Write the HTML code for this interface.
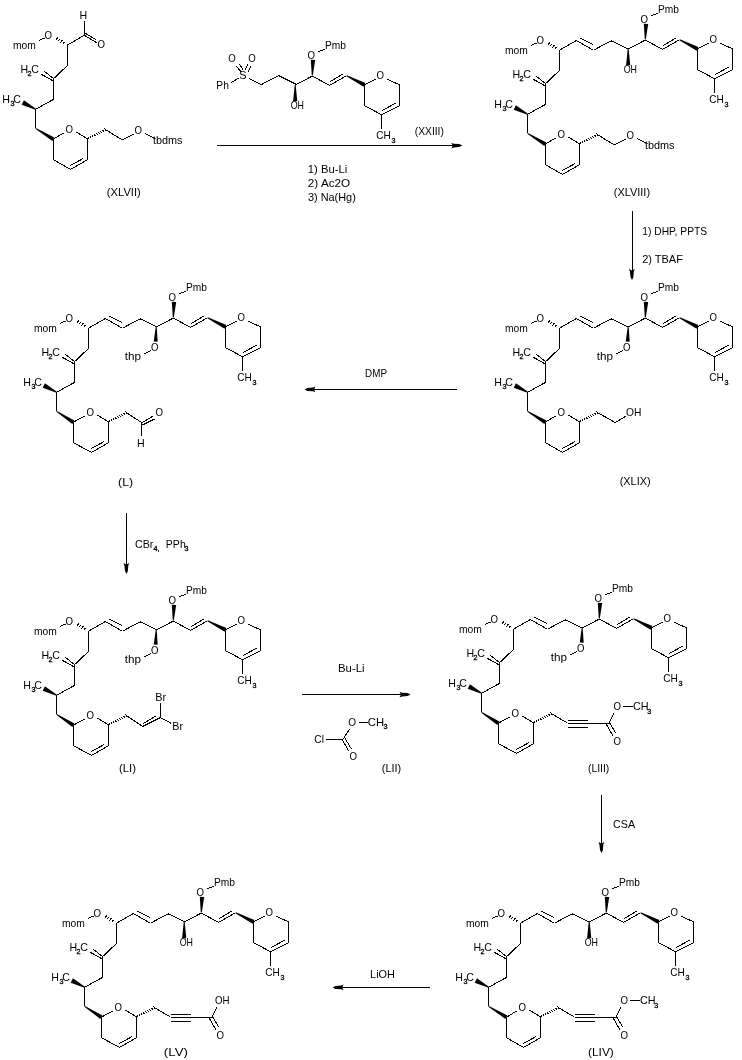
<!DOCTYPE html>
<html><head><meta charset="utf-8"><style>
html,body{margin:0;padding:0;background:#fff;}
svg{display:block;will-change:transform;}
line{stroke:#000;stroke-width:1;shape-rendering:crispEdges;}
.k{fill:#000;}
text{font-family:"Liberation Sans",sans-serif;fill:#000;stroke:none;}
.s{stroke:#000;stroke-width:0.3px;}
</style></head><body>
<svg width="742" height="1060" viewBox="0 0 742 1060">
<rect width="742" height="1060" fill="#fff"/>
<text x="12.95" y="48.7" font-size="11" textLength="22.85" lengthAdjust="spacingAndGlyphs">mom</text>
<line x1="39.2" y1="40.2" x2="45.1" y2="38"/>
<text x="44.49" y="38.7" font-size="11" textLength="7.49" lengthAdjust="spacingAndGlyphs">O</text>
<line x1="64.47" y1="41.67" x2="63.01" y2="43.98"/>
<line x1="62.28" y1="40.17" x2="60.71" y2="42.65"/>
<line x1="60.09" y1="38.67" x2="58.42" y2="41.31"/>
<line x1="57.9" y1="37.17" x2="56.13" y2="39.98"/>
<line x1="67.5" y1="45.2" x2="67.5" y2="65.4"/>
<line x1="67.5" y1="65.4" x2="53.7" y2="78.6"/>
<line x1="53.7" y1="78.6" x2="43.8" y2="71"/>
<line x1="53.2" y1="81" x2="41.4" y2="74.3"/>
<text x="20.42" y="72.9" font-size="11" textLength="7.68" lengthAdjust="spacingAndGlyphs">H</text>
<text class="s" x="27.6" y="76" font-size="7.2">2</text>
<text x="31.32" y="72.9" font-size="11" textLength="7.68" lengthAdjust="spacingAndGlyphs">C</text>
<line x1="53.7" y1="78.6" x2="53.7" y2="99.3"/>
<line x1="53.7" y1="99.3" x2="35.7" y2="109.2"/>
<polygon class="k" points="35.93,108.75 35.47,109.65 21.66,104.83 23.94,100.37"/>
<text x="2.22" y="102.6" font-size="11" textLength="7.68" lengthAdjust="spacingAndGlyphs">H</text>
<text class="s" x="10.6" y="106" font-size="7.2">3</text>
<text x="13.32" y="102.6" font-size="11" textLength="7.68" lengthAdjust="spacingAndGlyphs">C</text>
<line x1="35.6" y1="109.2" x2="35.6" y2="128.4"/>
<polygon class="k" points="35.34,128.83 35.86,127.97 54.44,137.49 52.36,140.91"/>
<line x1="53.4" y1="139.2" x2="63.6" y2="133"/>
<text x="65.39" y="132.6" font-size="11" textLength="7.49" lengthAdjust="spacingAndGlyphs">O</text>
<line x1="76.3" y1="132.2" x2="87.4" y2="138.7"/>
<line x1="87.4" y1="138.7" x2="87.4" y2="159.7"/>
<line x1="87.4" y1="159.7" x2="70.6" y2="169.4"/>
<line x1="70" y1="165.6" x2="83" y2="158.6"/>
<line x1="70.6" y1="169.4" x2="53.4" y2="159.7"/>
<line x1="53.4" y1="159.7" x2="53.4" y2="139.2"/>
<line x1="88.87" y1="138.87" x2="88.11" y2="137.4"/>
<line x1="90.97" y1="137.83" x2="90.17" y2="136.28"/>
<line x1="93.07" y1="136.79" x2="92.23" y2="135.16"/>
<line x1="95.17" y1="135.75" x2="94.29" y2="134.04"/>
<line x1="97.28" y1="134.71" x2="96.35" y2="132.92"/>
<line x1="99.38" y1="133.67" x2="98.41" y2="131.8"/>
<line x1="101.48" y1="132.63" x2="100.47" y2="130.67"/>
<line x1="103.58" y1="131.59" x2="102.53" y2="129.55"/>
<line x1="105.69" y1="130.55" x2="104.59" y2="128.43"/>
<line x1="105" y1="129.3" x2="122.2" y2="139.9"/>
<line x1="122.2" y1="139.9" x2="134.1" y2="134"/>
<text x="134.49" y="133.8" font-size="11" textLength="7.49" lengthAdjust="spacingAndGlyphs">O</text>
<line x1="144.8" y1="133.2" x2="153.5" y2="137.8"/>
<text x="152.91" y="143.8" font-size="11" textLength="29.65" lengthAdjust="spacingAndGlyphs">tbdms</text>
<line x1="67.5" y1="45" x2="84.5" y2="35.2"/>
<line x1="84.5" y1="35.2" x2="84.5" y2="20.9"/>
<text x="79.52" y="18.9" font-size="11" textLength="7.68" lengthAdjust="spacingAndGlyphs">H</text>
<line x1="84.2" y1="35.2" x2="96.6" y2="42.7"/>
<line x1="85.3" y1="33.3" x2="95.7" y2="39.4"/>
<text x="97.59" y="47.9" font-size="11" textLength="7.49" lengthAdjust="spacingAndGlyphs">O</text>
<text x="106.89" y="195.6" font-size="11" textLength="33.83" lengthAdjust="spacingAndGlyphs">(XLVII)</text>
<line x1="295.2" y1="84.9" x2="312.3" y2="76.1"/>
<polygon class="k" points="312.8,75.52 311.8,75.48 310.8,59.7 315.2,59.9"/>
<text x="307.39" y="59" font-size="11" textLength="7.49" lengthAdjust="spacingAndGlyphs">O</text>
<line x1="318.2" y1="51.6" x2="324.8" y2="49.3"/>
<text x="324.95" y="49.3" font-size="11" textLength="21" lengthAdjust="spacingAndGlyphs">Pmb</text>
<line x1="312.3" y1="76.1" x2="329.6" y2="85.4"/>
<line x1="329.6" y1="85.4" x2="346.6" y2="75.7"/>
<line x1="330" y1="81.8" x2="342.6" y2="74.1"/>
<polygon class="k" points="346.37,76.14 346.83,75.26 365.41,83.12 363.59,86.68"/>
<line x1="364.5" y1="84.9" x2="375.5" y2="79.2"/>
<text x="376.39" y="78.5" font-size="11" textLength="7.49" lengthAdjust="spacingAndGlyphs">O</text>
<line x1="387.2" y1="79.2" x2="399.6" y2="84.9"/>
<line x1="399.6" y1="84.9" x2="399.6" y2="105.6"/>
<line x1="399.6" y1="105.6" x2="381.5" y2="114.7"/>
<line x1="382.3" y1="110.5" x2="395.9" y2="103"/>
<line x1="381.5" y1="114.7" x2="364.5" y2="105.6"/>
<line x1="364.5" y1="105.6" x2="364.5" y2="84.9"/>
<line x1="381.5" y1="114.7" x2="381.5" y2="129.4"/>
<text x="376.36" y="138.8" font-size="11" textLength="14.53" lengthAdjust="spacingAndGlyphs">CH</text>
<text class="s" x="391.6" y="143" font-size="7.2">3</text>
<polygon class="k" points="294.7,84.9 295.7,84.9 297.3,101.2 293.1,101.2"/>
<text x="290.64" y="109" font-size="11" textLength="13.3" lengthAdjust="spacingAndGlyphs">OH</text>
<line x1="296.4" y1="84.5" x2="278.6" y2="75.6"/>
<line x1="278.6" y1="75.6" x2="261.5" y2="84.5"/>
<line x1="261.8" y1="85" x2="249" y2="78.3"/>
<text x="239.3" y="78.6" font-size="11">S</text>
<line x1="238.9" y1="78" x2="231.2" y2="82.7"/>
<text x="216.35" y="88.5" font-size="11" textLength="12.56" lengthAdjust="spacingAndGlyphs">Ph</text>
<text x="228.29" y="61.8" font-size="11" textLength="7.49" lengthAdjust="spacingAndGlyphs">O</text>
<text x="248.29" y="61.8" font-size="11" textLength="7.49" lengthAdjust="spacingAndGlyphs">O</text>
<line x1="236.2" y1="66.2" x2="241.6" y2="72.2"/>
<line x1="239.3" y1="64.2" x2="243" y2="69.5"/>
<line x1="247.7" y1="64.2" x2="245.3" y2="69.9"/>
<line x1="250.7" y1="66.2" x2="248.4" y2="71.6"/>
<text x="414.85" y="134.8" font-size="11" textLength="28.99" lengthAdjust="spacingAndGlyphs">(XXIII)</text>
<line x1="217" y1="145.5" x2="459.8" y2="145.5"/>
<polygon class="k" points="462.3,145.5 459.3,144.1 453.8,143.7 451.3,142.7 452.8,145.5 451.3,148.5 453.8,147.6 459.3,147"/>
<text x="307.88" y="172.8" font-size="11" textLength="39.35" lengthAdjust="spacingAndGlyphs">1) Bu-Li</text>
<text x="307.85" y="186.8" font-size="11" textLength="42.36" lengthAdjust="spacingAndGlyphs">2) Ac2O</text>
<text x="307.91" y="200.8" font-size="11" textLength="47.88" lengthAdjust="spacingAndGlyphs">3) Na(Hg)</text>
<text x="504.95" y="53.7" font-size="11" textLength="22.85" lengthAdjust="spacingAndGlyphs">mom</text>
<line x1="531.2" y1="45.2" x2="537.1" y2="43"/>
<text x="536.49" y="43.7" font-size="11" textLength="7.49" lengthAdjust="spacingAndGlyphs">O</text>
<line x1="556.47" y1="46.67" x2="555.01" y2="48.98"/>
<line x1="554.28" y1="45.17" x2="552.71" y2="47.65"/>
<line x1="552.09" y1="43.67" x2="550.42" y2="46.31"/>
<line x1="549.9" y1="42.17" x2="548.13" y2="44.98"/>
<line x1="559.5" y1="50.2" x2="559.5" y2="70.4"/>
<line x1="559.5" y1="70.4" x2="545.7" y2="83.6"/>
<line x1="545.7" y1="83.6" x2="535.8" y2="76"/>
<line x1="545.2" y1="86" x2="533.4" y2="79.3"/>
<text x="512.42" y="77.9" font-size="11" textLength="7.68" lengthAdjust="spacingAndGlyphs">H</text>
<text class="s" x="519.6" y="81" font-size="7.2">2</text>
<text x="523.32" y="77.9" font-size="11" textLength="7.68" lengthAdjust="spacingAndGlyphs">C</text>
<line x1="545.7" y1="83.6" x2="545.7" y2="104.3"/>
<line x1="545.7" y1="104.3" x2="527.7" y2="114.2"/>
<polygon class="k" points="527.93,113.75 527.47,114.65 513.66,109.83 515.94,105.37"/>
<text x="494.22" y="107.6" font-size="11" textLength="7.68" lengthAdjust="spacingAndGlyphs">H</text>
<text class="s" x="502.6" y="111" font-size="7.2">3</text>
<text x="505.32" y="107.6" font-size="11" textLength="7.68" lengthAdjust="spacingAndGlyphs">C</text>
<line x1="527.6" y1="114.2" x2="527.6" y2="133.4"/>
<polygon class="k" points="527.34,133.83 527.86,132.97 546.44,142.49 544.36,145.91"/>
<line x1="545.4" y1="144.2" x2="555.6" y2="138"/>
<text x="557.39" y="137.6" font-size="11" textLength="7.49" lengthAdjust="spacingAndGlyphs">O</text>
<line x1="568.3" y1="137.2" x2="579.4" y2="143.7"/>
<line x1="579.4" y1="143.7" x2="579.4" y2="164.7"/>
<line x1="579.4" y1="164.7" x2="562.6" y2="174.4"/>
<line x1="562" y1="170.6" x2="575" y2="163.6"/>
<line x1="562.6" y1="174.4" x2="545.4" y2="164.7"/>
<line x1="545.4" y1="164.7" x2="545.4" y2="144.2"/>
<line x1="580.87" y1="143.87" x2="580.11" y2="142.4"/>
<line x1="582.97" y1="142.83" x2="582.17" y2="141.28"/>
<line x1="585.07" y1="141.79" x2="584.23" y2="140.16"/>
<line x1="587.17" y1="140.75" x2="586.29" y2="139.04"/>
<line x1="589.28" y1="139.71" x2="588.35" y2="137.92"/>
<line x1="591.38" y1="138.67" x2="590.41" y2="136.8"/>
<line x1="593.48" y1="137.63" x2="592.47" y2="135.67"/>
<line x1="595.58" y1="136.59" x2="594.53" y2="134.55"/>
<line x1="597.69" y1="135.55" x2="596.59" y2="133.43"/>
<line x1="559.5" y1="50.2" x2="576.4" y2="40.5"/>
<line x1="576.4" y1="40.5" x2="593.4" y2="50.2"/>
<line x1="580" y1="38.1" x2="593" y2="44.6"/>
<line x1="593.4" y1="50.2" x2="611.1" y2="40.8"/>
<line x1="611.1" y1="40.8" x2="628.2" y2="48.9"/>
<line x1="628.2" y1="48.9" x2="645.3" y2="40.1"/>
<polygon class="k" points="645.8,39.52 644.8,39.48 643.8,23.7 648.2,23.9"/>
<text x="640.39" y="23" font-size="11" textLength="7.49" lengthAdjust="spacingAndGlyphs">O</text>
<line x1="651.2" y1="15.6" x2="657.8" y2="13.3"/>
<text x="657.95" y="13.3" font-size="11" textLength="21" lengthAdjust="spacingAndGlyphs">Pmb</text>
<line x1="645.3" y1="40.1" x2="662.6" y2="49.4"/>
<line x1="662.6" y1="49.4" x2="679.6" y2="39.7"/>
<line x1="663" y1="45.8" x2="675.6" y2="38.1"/>
<polygon class="k" points="679.37,40.14 679.83,39.26 698.41,47.12 696.59,50.68"/>
<line x1="697.5" y1="48.9" x2="708.5" y2="43.2"/>
<text x="709.39" y="42.5" font-size="11" textLength="7.49" lengthAdjust="spacingAndGlyphs">O</text>
<line x1="720.2" y1="43.2" x2="732.6" y2="48.9"/>
<line x1="732.6" y1="48.9" x2="732.6" y2="69.6"/>
<line x1="732.6" y1="69.6" x2="714.5" y2="78.7"/>
<line x1="715.3" y1="74.5" x2="728.9" y2="67"/>
<line x1="714.5" y1="78.7" x2="697.5" y2="69.6"/>
<line x1="697.5" y1="69.6" x2="697.5" y2="48.9"/>
<line x1="714.5" y1="78.7" x2="714.5" y2="93.4"/>
<text x="709.36" y="102.8" font-size="11" textLength="14.53" lengthAdjust="spacingAndGlyphs">CH</text>
<text class="s" x="724.6" y="107" font-size="7.2">3</text>
<polygon class="k" points="627.7,48.9 628.7,48.9 630.3,65.2 626.1,65.2"/>
<text x="623.64" y="73" font-size="11" textLength="13.3" lengthAdjust="spacingAndGlyphs">OH</text>
<line x1="597" y1="134.3" x2="614.2" y2="144.9"/>
<line x1="614.2" y1="144.9" x2="626.1" y2="139"/>
<text x="626.49" y="138.8" font-size="11" textLength="7.49" lengthAdjust="spacingAndGlyphs">O</text>
<line x1="636.8" y1="138.2" x2="645.5" y2="142.8"/>
<text x="644.91" y="148.8" font-size="11" textLength="29.65" lengthAdjust="spacingAndGlyphs">tbdms</text>
<text x="613.8" y="195.8" font-size="11" textLength="36.26" lengthAdjust="spacingAndGlyphs">(XLVIII)</text>
<line x1="632" y1="210.8" x2="632" y2="277.5"/>
<polygon class="k" points="632,280 633.4,277 633.8,271.5 634.8,269 632,270.5 629,269 629.9,271.5 630.5,277"/>
<text x="642.25" y="235" font-size="11" textLength="64.89" lengthAdjust="spacingAndGlyphs">1) DHP, PPTS</text>
<text x="642.2" y="263" font-size="11" textLength="40.75" lengthAdjust="spacingAndGlyphs">2) TBAF</text>
<text x="504.95" y="331.7" font-size="11" textLength="22.85" lengthAdjust="spacingAndGlyphs">mom</text>
<line x1="531.2" y1="323.2" x2="537.1" y2="321"/>
<text x="536.49" y="321.7" font-size="11" textLength="7.49" lengthAdjust="spacingAndGlyphs">O</text>
<line x1="556.47" y1="324.67" x2="555.01" y2="326.98"/>
<line x1="554.28" y1="323.17" x2="552.71" y2="325.65"/>
<line x1="552.09" y1="321.67" x2="550.42" y2="324.31"/>
<line x1="549.9" y1="320.17" x2="548.13" y2="322.98"/>
<line x1="559.5" y1="328.2" x2="559.5" y2="348.4"/>
<line x1="559.5" y1="348.4" x2="545.7" y2="361.6"/>
<line x1="545.7" y1="361.6" x2="535.8" y2="354"/>
<line x1="545.2" y1="364" x2="533.4" y2="357.3"/>
<text x="512.42" y="355.9" font-size="11" textLength="7.68" lengthAdjust="spacingAndGlyphs">H</text>
<text class="s" x="519.6" y="359" font-size="7.2">2</text>
<text x="523.32" y="355.9" font-size="11" textLength="7.68" lengthAdjust="spacingAndGlyphs">C</text>
<line x1="545.7" y1="361.6" x2="545.7" y2="382.3"/>
<line x1="545.7" y1="382.3" x2="527.7" y2="392.2"/>
<polygon class="k" points="527.93,391.75 527.47,392.65 513.66,387.83 515.94,383.37"/>
<text x="494.22" y="385.6" font-size="11" textLength="7.68" lengthAdjust="spacingAndGlyphs">H</text>
<text class="s" x="502.6" y="389" font-size="7.2">3</text>
<text x="505.32" y="385.6" font-size="11" textLength="7.68" lengthAdjust="spacingAndGlyphs">C</text>
<line x1="527.6" y1="392.2" x2="527.6" y2="411.4"/>
<polygon class="k" points="527.34,411.83 527.86,410.97 546.44,420.49 544.36,423.91"/>
<line x1="545.4" y1="422.2" x2="555.6" y2="416"/>
<text x="557.39" y="415.6" font-size="11" textLength="7.49" lengthAdjust="spacingAndGlyphs">O</text>
<line x1="568.3" y1="415.2" x2="579.4" y2="421.7"/>
<line x1="579.4" y1="421.7" x2="579.4" y2="442.7"/>
<line x1="579.4" y1="442.7" x2="562.6" y2="452.4"/>
<line x1="562" y1="448.6" x2="575" y2="441.6"/>
<line x1="562.6" y1="452.4" x2="545.4" y2="442.7"/>
<line x1="545.4" y1="442.7" x2="545.4" y2="422.2"/>
<line x1="580.87" y1="421.87" x2="580.11" y2="420.4"/>
<line x1="582.97" y1="420.83" x2="582.17" y2="419.28"/>
<line x1="585.07" y1="419.79" x2="584.23" y2="418.16"/>
<line x1="587.17" y1="418.75" x2="586.29" y2="417.04"/>
<line x1="589.28" y1="417.71" x2="588.35" y2="415.92"/>
<line x1="591.38" y1="416.67" x2="590.41" y2="414.8"/>
<line x1="593.48" y1="415.63" x2="592.47" y2="413.67"/>
<line x1="595.58" y1="414.59" x2="594.53" y2="412.55"/>
<line x1="597.69" y1="413.55" x2="596.59" y2="411.43"/>
<line x1="559.5" y1="328.2" x2="576.4" y2="318.5"/>
<line x1="576.4" y1="318.5" x2="593.4" y2="328.2"/>
<line x1="580" y1="316.1" x2="593" y2="322.6"/>
<line x1="593.4" y1="328.2" x2="611.1" y2="318.8"/>
<line x1="611.1" y1="318.8" x2="628.2" y2="326.9"/>
<line x1="628.2" y1="326.9" x2="645.3" y2="318.1"/>
<polygon class="k" points="645.8,317.52 644.8,317.48 643.8,301.7 648.2,301.9"/>
<text x="640.39" y="301" font-size="11" textLength="7.49" lengthAdjust="spacingAndGlyphs">O</text>
<line x1="651.2" y1="293.6" x2="657.8" y2="291.3"/>
<text x="657.95" y="291.3" font-size="11" textLength="21" lengthAdjust="spacingAndGlyphs">Pmb</text>
<line x1="645.3" y1="318.1" x2="662.6" y2="327.4"/>
<line x1="662.6" y1="327.4" x2="679.6" y2="317.7"/>
<line x1="663" y1="323.8" x2="675.6" y2="316.1"/>
<polygon class="k" points="679.37,318.14 679.83,317.26 698.41,325.12 696.59,328.68"/>
<line x1="697.5" y1="326.9" x2="708.5" y2="321.2"/>
<text x="709.39" y="320.5" font-size="11" textLength="7.49" lengthAdjust="spacingAndGlyphs">O</text>
<line x1="720.2" y1="321.2" x2="732.6" y2="326.9"/>
<line x1="732.6" y1="326.9" x2="732.6" y2="347.6"/>
<line x1="732.6" y1="347.6" x2="714.5" y2="356.7"/>
<line x1="715.3" y1="352.5" x2="728.9" y2="345"/>
<line x1="714.5" y1="356.7" x2="697.5" y2="347.6"/>
<line x1="697.5" y1="347.6" x2="697.5" y2="326.9"/>
<line x1="714.5" y1="356.7" x2="714.5" y2="371.4"/>
<text x="709.36" y="380.8" font-size="11" textLength="14.53" lengthAdjust="spacingAndGlyphs">CH</text>
<text class="s" x="724.6" y="385" font-size="7.2">3</text>
<polygon class="k" points="627.7,326.88 628.7,326.92 629.7,341.67 625.7,341.53"/>
<text x="623.09" y="351.3" font-size="11" textLength="7.49" lengthAdjust="spacingAndGlyphs">O</text>
<line x1="623" y1="350.5" x2="616.3" y2="354"/>
<text x="596.76" y="360.4" font-size="11" textLength="16.21" lengthAdjust="spacingAndGlyphs">thp</text>
<line x1="597" y1="412.3" x2="615.2" y2="422.5"/>
<line x1="615.2" y1="422.5" x2="625.7" y2="416.4"/>
<text x="625.95" y="416.4" font-size="11" textLength="15.37" lengthAdjust="spacingAndGlyphs">OH</text>
<text x="619.7" y="485.2" font-size="11" textLength="30.97" lengthAdjust="spacingAndGlyphs">(XLIX)</text>
<line x1="456.9" y1="389.5" x2="307" y2="389.5"/>
<polygon class="k" points="304.5,389.5 307.5,390.9 313,391.3 315.5,392.3 314,389.5 315.5,386.5 313,387.4 307.5,388"/>
<text x="365.07" y="377.2" font-size="11" textLength="21.89" lengthAdjust="spacingAndGlyphs">DMP</text>
<text x="33.95" y="331.7" font-size="11" textLength="22.85" lengthAdjust="spacingAndGlyphs">mom</text>
<line x1="60.2" y1="323.2" x2="66.1" y2="321"/>
<text x="65.49" y="321.7" font-size="11" textLength="7.49" lengthAdjust="spacingAndGlyphs">O</text>
<line x1="85.47" y1="324.67" x2="84.01" y2="326.98"/>
<line x1="83.28" y1="323.17" x2="81.71" y2="325.65"/>
<line x1="81.09" y1="321.67" x2="79.42" y2="324.31"/>
<line x1="78.9" y1="320.17" x2="77.13" y2="322.98"/>
<line x1="88.5" y1="328.2" x2="88.5" y2="348.4"/>
<line x1="88.5" y1="348.4" x2="74.7" y2="361.6"/>
<line x1="74.7" y1="361.6" x2="64.8" y2="354"/>
<line x1="74.2" y1="364" x2="62.4" y2="357.3"/>
<text x="41.42" y="355.9" font-size="11" textLength="7.68" lengthAdjust="spacingAndGlyphs">H</text>
<text class="s" x="48.6" y="359" font-size="7.2">2</text>
<text x="52.32" y="355.9" font-size="11" textLength="7.68" lengthAdjust="spacingAndGlyphs">C</text>
<line x1="74.7" y1="361.6" x2="74.7" y2="382.3"/>
<line x1="74.7" y1="382.3" x2="56.7" y2="392.2"/>
<polygon class="k" points="56.93,391.75 56.47,392.65 42.66,387.83 44.94,383.37"/>
<text x="23.22" y="385.6" font-size="11" textLength="7.68" lengthAdjust="spacingAndGlyphs">H</text>
<text class="s" x="31.6" y="389" font-size="7.2">3</text>
<text x="34.32" y="385.6" font-size="11" textLength="7.68" lengthAdjust="spacingAndGlyphs">C</text>
<line x1="56.6" y1="392.2" x2="56.6" y2="411.4"/>
<polygon class="k" points="56.33,411.82 56.87,410.98 74.48,420.52 72.32,423.88"/>
<line x1="73.4" y1="422.2" x2="84.6" y2="416"/>
<text x="86.39" y="415.6" font-size="11" textLength="7.49" lengthAdjust="spacingAndGlyphs">O</text>
<line x1="97.3" y1="415.2" x2="108.4" y2="421.7"/>
<line x1="108.4" y1="421.7" x2="108.4" y2="442.7"/>
<line x1="108.4" y1="442.7" x2="91.6" y2="452.4"/>
<line x1="91" y1="448.6" x2="104" y2="441.6"/>
<line x1="91.6" y1="452.4" x2="73.4" y2="442.7"/>
<line x1="73.4" y1="442.7" x2="73.4" y2="422.2"/>
<line x1="109.87" y1="421.87" x2="109.11" y2="420.4"/>
<line x1="111.97" y1="420.83" x2="111.17" y2="419.28"/>
<line x1="114.07" y1="419.79" x2="113.23" y2="418.16"/>
<line x1="116.17" y1="418.75" x2="115.29" y2="417.04"/>
<line x1="118.28" y1="417.71" x2="117.35" y2="415.92"/>
<line x1="120.38" y1="416.67" x2="119.41" y2="414.8"/>
<line x1="122.48" y1="415.63" x2="121.47" y2="413.67"/>
<line x1="124.58" y1="414.59" x2="123.53" y2="412.55"/>
<line x1="126.69" y1="413.55" x2="125.59" y2="411.43"/>
<line x1="88.5" y1="328.2" x2="105.4" y2="318.5"/>
<line x1="105.4" y1="318.5" x2="122.4" y2="328.2"/>
<line x1="109" y1="316.1" x2="122" y2="322.6"/>
<line x1="122.4" y1="328.2" x2="140.1" y2="318.8"/>
<line x1="140.1" y1="318.8" x2="157.2" y2="326.9"/>
<line x1="156.2" y1="326.9" x2="173.3" y2="318.1"/>
<polygon class="k" points="173.8,317.52 172.8,317.48 171.8,301.7 176.2,301.9"/>
<text x="168.39" y="301" font-size="11" textLength="7.49" lengthAdjust="spacingAndGlyphs">O</text>
<line x1="179.2" y1="293.6" x2="185.8" y2="291.3"/>
<text x="185.95" y="291.3" font-size="11" textLength="21" lengthAdjust="spacingAndGlyphs">Pmb</text>
<line x1="173.3" y1="318.1" x2="190.6" y2="327.4"/>
<line x1="190.6" y1="327.4" x2="207.6" y2="317.7"/>
<line x1="191" y1="323.8" x2="203.6" y2="316.1"/>
<polygon class="k" points="207.37,318.14 207.83,317.26 226.41,325.12 224.59,328.68"/>
<line x1="225.5" y1="326.9" x2="236.5" y2="321.2"/>
<text x="237.39" y="320.5" font-size="11" textLength="7.49" lengthAdjust="spacingAndGlyphs">O</text>
<line x1="248.2" y1="321.2" x2="260.6" y2="326.9"/>
<line x1="260.6" y1="326.9" x2="260.6" y2="347.6"/>
<line x1="260.6" y1="347.6" x2="242.5" y2="356.7"/>
<line x1="243.3" y1="352.5" x2="256.9" y2="345"/>
<line x1="242.5" y1="356.7" x2="225.5" y2="347.6"/>
<line x1="225.5" y1="347.6" x2="225.5" y2="326.9"/>
<line x1="242.5" y1="356.7" x2="242.5" y2="371.4"/>
<text x="237.36" y="380.8" font-size="11" textLength="14.53" lengthAdjust="spacingAndGlyphs">CH</text>
<text class="s" x="252.6" y="385" font-size="7.2">3</text>
<polygon class="k" points="155.7,326.88 156.7,326.92 157.7,341.67 153.7,341.53"/>
<text x="151.09" y="351.3" font-size="11" textLength="7.49" lengthAdjust="spacingAndGlyphs">O</text>
<line x1="151" y1="350.5" x2="144.3" y2="354"/>
<text x="124.76" y="360.4" font-size="11" textLength="16.21" lengthAdjust="spacingAndGlyphs">thp</text>
<line x1="126" y1="412.3" x2="141.9" y2="422.8"/>
<line x1="141.9" y1="422.8" x2="153" y2="416.1"/>
<line x1="142.6" y1="425" x2="154.5" y2="419"/>
<text x="155.39" y="416.4" font-size="11" textLength="7.49" lengthAdjust="spacingAndGlyphs">O</text>
<line x1="141.9" y1="422.8" x2="141.9" y2="436.1"/>
<text x="137.02" y="446.5" font-size="11" textLength="7.68" lengthAdjust="spacingAndGlyphs">H</text>
<text x="118.12" y="485.5" font-size="11" textLength="15.01" lengthAdjust="spacingAndGlyphs">(L)</text>
<line x1="126.5" y1="512.9" x2="126.5" y2="571.6"/>
<polygon class="k" points="126.5,574.1 127.9,571.1 128.3,565.6 129.3,563.1 126.5,564.6 123.5,563.1 124.4,565.6 125,571.1"/>
<text x="134.92" y="548.2" font-size="11" textLength="18.42" lengthAdjust="spacingAndGlyphs">CBr</text>
<text class="s" x="153.4" y="550.6" font-size="7.2">4,</text>
<text x="165.83" y="548.2" font-size="11" textLength="19.92" lengthAdjust="spacingAndGlyphs">PPh</text>
<text class="s" x="184.4" y="550.6" font-size="7.2">3</text>
<text x="33.95" y="634.7" font-size="11" textLength="22.85" lengthAdjust="spacingAndGlyphs">mom</text>
<line x1="60.2" y1="626.2" x2="66.1" y2="624"/>
<text x="65.49" y="624.7" font-size="11" textLength="7.49" lengthAdjust="spacingAndGlyphs">O</text>
<line x1="85.47" y1="627.67" x2="84.01" y2="629.98"/>
<line x1="83.28" y1="626.17" x2="81.71" y2="628.65"/>
<line x1="81.09" y1="624.67" x2="79.42" y2="627.31"/>
<line x1="78.9" y1="623.17" x2="77.13" y2="625.98"/>
<line x1="88.5" y1="631.2" x2="88.5" y2="651.4"/>
<line x1="88.5" y1="651.4" x2="74.7" y2="664.6"/>
<line x1="74.7" y1="664.6" x2="64.8" y2="657"/>
<line x1="74.2" y1="667" x2="62.4" y2="660.3"/>
<text x="41.42" y="658.9" font-size="11" textLength="7.68" lengthAdjust="spacingAndGlyphs">H</text>
<text class="s" x="48.6" y="662" font-size="7.2">2</text>
<text x="52.32" y="658.9" font-size="11" textLength="7.68" lengthAdjust="spacingAndGlyphs">C</text>
<line x1="74.7" y1="664.6" x2="74.7" y2="685.3"/>
<line x1="74.7" y1="685.3" x2="56.7" y2="695.2"/>
<polygon class="k" points="56.93,694.75 56.47,695.65 42.66,690.83 44.94,686.37"/>
<text x="23.22" y="688.6" font-size="11" textLength="7.68" lengthAdjust="spacingAndGlyphs">H</text>
<text class="s" x="31.6" y="692" font-size="7.2">3</text>
<text x="34.32" y="688.6" font-size="11" textLength="7.68" lengthAdjust="spacingAndGlyphs">C</text>
<line x1="56.6" y1="695.2" x2="56.6" y2="714.4"/>
<polygon class="k" points="56.33,714.82 56.87,713.98 74.48,723.52 72.32,726.88"/>
<line x1="73.4" y1="725.2" x2="84.6" y2="719"/>
<text x="86.39" y="718.6" font-size="11" textLength="7.49" lengthAdjust="spacingAndGlyphs">O</text>
<line x1="97.3" y1="718.2" x2="108.4" y2="724.7"/>
<line x1="108.4" y1="724.7" x2="108.4" y2="745.7"/>
<line x1="108.4" y1="745.7" x2="91.6" y2="755.4"/>
<line x1="91" y1="751.6" x2="104" y2="744.6"/>
<line x1="91.6" y1="755.4" x2="73.4" y2="745.7"/>
<line x1="73.4" y1="745.7" x2="73.4" y2="725.2"/>
<line x1="109.87" y1="724.87" x2="109.11" y2="723.4"/>
<line x1="111.97" y1="723.83" x2="111.17" y2="722.28"/>
<line x1="114.07" y1="722.79" x2="113.23" y2="721.16"/>
<line x1="116.17" y1="721.75" x2="115.29" y2="720.04"/>
<line x1="118.28" y1="720.71" x2="117.35" y2="718.92"/>
<line x1="120.38" y1="719.67" x2="119.41" y2="717.8"/>
<line x1="122.48" y1="718.63" x2="121.47" y2="716.67"/>
<line x1="124.58" y1="717.59" x2="123.53" y2="715.55"/>
<line x1="126.69" y1="716.55" x2="125.59" y2="714.43"/>
<line x1="88.5" y1="631.2" x2="105.4" y2="621.5"/>
<line x1="105.4" y1="621.5" x2="122.4" y2="631.2"/>
<line x1="109" y1="619.1" x2="122" y2="625.6"/>
<line x1="122.4" y1="631.2" x2="140.1" y2="621.8"/>
<line x1="140.1" y1="621.8" x2="157.2" y2="629.9"/>
<line x1="156.2" y1="629.9" x2="173.3" y2="621.1"/>
<polygon class="k" points="173.8,620.52 172.8,620.48 171.8,604.7 176.2,604.9"/>
<text x="168.39" y="604" font-size="11" textLength="7.49" lengthAdjust="spacingAndGlyphs">O</text>
<line x1="179.2" y1="596.6" x2="185.8" y2="594.3"/>
<text x="185.95" y="594.3" font-size="11" textLength="21" lengthAdjust="spacingAndGlyphs">Pmb</text>
<line x1="173.3" y1="621.1" x2="190.6" y2="630.4"/>
<line x1="190.6" y1="630.4" x2="207.6" y2="620.7"/>
<line x1="191" y1="626.8" x2="203.6" y2="619.1"/>
<polygon class="k" points="207.37,621.14 207.83,620.26 226.41,628.12 224.59,631.68"/>
<line x1="225.5" y1="629.9" x2="236.5" y2="624.2"/>
<text x="237.39" y="623.5" font-size="11" textLength="7.49" lengthAdjust="spacingAndGlyphs">O</text>
<line x1="248.2" y1="624.2" x2="260.6" y2="629.9"/>
<line x1="260.6" y1="629.9" x2="260.6" y2="650.6"/>
<line x1="260.6" y1="650.6" x2="242.5" y2="659.7"/>
<line x1="243.3" y1="655.5" x2="256.9" y2="648"/>
<line x1="242.5" y1="659.7" x2="225.5" y2="650.6"/>
<line x1="225.5" y1="650.6" x2="225.5" y2="629.9"/>
<line x1="242.5" y1="659.7" x2="242.5" y2="674.4"/>
<text x="237.36" y="683.8" font-size="11" textLength="14.53" lengthAdjust="spacingAndGlyphs">CH</text>
<text class="s" x="252.6" y="688" font-size="7.2">3</text>
<polygon class="k" points="155.7,629.88 156.7,629.92 157.7,644.67 153.7,644.53"/>
<text x="151.09" y="654.3" font-size="11" textLength="7.49" lengthAdjust="spacingAndGlyphs">O</text>
<line x1="151" y1="653.5" x2="144.3" y2="657"/>
<text x="124.76" y="663.4" font-size="11" textLength="16.21" lengthAdjust="spacingAndGlyphs">thp</text>
<line x1="126" y1="715.3" x2="142.6" y2="726.5"/>
<line x1="142.6" y1="726.5" x2="160.4" y2="717.6"/>
<line x1="143.4" y1="723.5" x2="156" y2="715.8"/>
<line x1="160.4" y1="717.6" x2="160.4" y2="702.7"/>
<text x="155.31" y="700.5" font-size="11" textLength="10.89" lengthAdjust="spacingAndGlyphs">Br</text>
<line x1="160.4" y1="717.6" x2="171.5" y2="723.5"/>
<text x="172.32" y="730.2" font-size="11" textLength="10.67" lengthAdjust="spacingAndGlyphs">Br</text>
<text x="118.98" y="771.7" font-size="11" textLength="17.05" lengthAdjust="spacingAndGlyphs">(LI)</text>
<line x1="301.9" y1="694.5" x2="408" y2="694.5"/>
<polygon class="k" points="410.5,694.5 407.5,693.1 402,692.7 399.5,691.7 401,694.5 399.5,697.5 402,696.6 407.5,696"/>
<text x="337.97" y="671.9" font-size="11" textLength="26.64" lengthAdjust="spacingAndGlyphs">Bu-Li</text>
<text x="348.26" y="725.8" font-size="11" textLength="7.81" lengthAdjust="spacingAndGlyphs">O</text>
<line x1="359.2" y1="722.5" x2="367.5" y2="722.5"/>
<text x="367.88" y="725.8" font-size="11" textLength="16.34" lengthAdjust="spacingAndGlyphs">CH</text>
<text class="s" x="383.4" y="728.8" font-size="7.2">3</text>
<text x="314.35" y="742.7" font-size="11" textLength="9.58" lengthAdjust="spacingAndGlyphs">Cl</text>
<line x1="326.4" y1="739.1" x2="343.1" y2="739.1"/>
<line x1="343.1" y1="739.1" x2="349.6" y2="729.1"/>
<line x1="342.6" y1="740.2" x2="348.7" y2="751.2"/>
<line x1="344.8" y1="738" x2="351.4" y2="749"/>
<text x="349.39" y="759.5" font-size="11" textLength="7.49" lengthAdjust="spacingAndGlyphs">O</text>
<text x="381.8" y="771.5" font-size="11" textLength="19.45" lengthAdjust="spacingAndGlyphs">(LII)</text>
<text x="458.95" y="632.7" font-size="11" textLength="22.85" lengthAdjust="spacingAndGlyphs">mom</text>
<line x1="485.2" y1="624.2" x2="491.1" y2="622"/>
<text x="490.49" y="622.7" font-size="11" textLength="7.49" lengthAdjust="spacingAndGlyphs">O</text>
<line x1="510.47" y1="625.67" x2="509.01" y2="627.98"/>
<line x1="508.28" y1="624.17" x2="506.71" y2="626.65"/>
<line x1="506.09" y1="622.67" x2="504.42" y2="625.31"/>
<line x1="503.9" y1="621.17" x2="502.13" y2="623.98"/>
<line x1="513.5" y1="629.2" x2="513.5" y2="649.4"/>
<line x1="513.5" y1="649.4" x2="499.7" y2="662.6"/>
<line x1="499.7" y1="662.6" x2="489.8" y2="655"/>
<line x1="499.2" y1="665" x2="487.4" y2="658.3"/>
<text x="466.42" y="656.9" font-size="11" textLength="7.68" lengthAdjust="spacingAndGlyphs">H</text>
<text class="s" x="473.6" y="660" font-size="7.2">2</text>
<text x="477.32" y="656.9" font-size="11" textLength="7.68" lengthAdjust="spacingAndGlyphs">C</text>
<line x1="499.7" y1="662.6" x2="499.7" y2="683.3"/>
<line x1="499.7" y1="683.3" x2="481.7" y2="693.2"/>
<polygon class="k" points="481.93,692.75 481.47,693.65 467.66,688.83 469.94,684.37"/>
<text x="448.22" y="686.6" font-size="11" textLength="7.68" lengthAdjust="spacingAndGlyphs">H</text>
<text class="s" x="456.6" y="690" font-size="7.2">3</text>
<text x="459.32" y="686.6" font-size="11" textLength="7.68" lengthAdjust="spacingAndGlyphs">C</text>
<line x1="481.6" y1="693.2" x2="481.6" y2="712.4"/>
<polygon class="k" points="481.33,712.82 481.87,711.98 499.48,721.52 497.32,724.88"/>
<line x1="498.4" y1="723.2" x2="509.6" y2="717"/>
<text x="511.39" y="716.6" font-size="11" textLength="7.49" lengthAdjust="spacingAndGlyphs">O</text>
<line x1="522.3" y1="716.2" x2="533.4" y2="722.7"/>
<line x1="533.4" y1="722.7" x2="533.4" y2="743.7"/>
<line x1="533.4" y1="743.7" x2="516.6" y2="753.4"/>
<line x1="516" y1="749.6" x2="529" y2="742.6"/>
<line x1="516.6" y1="753.4" x2="498.4" y2="743.7"/>
<line x1="498.4" y1="743.7" x2="498.4" y2="723.2"/>
<line x1="534.87" y1="722.87" x2="534.11" y2="721.4"/>
<line x1="536.97" y1="721.83" x2="536.17" y2="720.28"/>
<line x1="539.07" y1="720.79" x2="538.23" y2="719.16"/>
<line x1="541.17" y1="719.75" x2="540.29" y2="718.04"/>
<line x1="543.28" y1="718.71" x2="542.35" y2="716.92"/>
<line x1="545.38" y1="717.67" x2="544.41" y2="715.8"/>
<line x1="547.48" y1="716.63" x2="546.47" y2="714.67"/>
<line x1="549.58" y1="715.59" x2="548.53" y2="713.55"/>
<line x1="551.69" y1="714.55" x2="550.59" y2="712.43"/>
<line x1="513.5" y1="629.2" x2="530.4" y2="619.5"/>
<line x1="530.4" y1="619.5" x2="547.4" y2="629.2"/>
<line x1="534" y1="617.1" x2="547" y2="623.6"/>
<line x1="547.4" y1="629.2" x2="565.1" y2="619.8"/>
<line x1="565.1" y1="619.8" x2="582.2" y2="627.9"/>
<line x1="582.2" y1="627.9" x2="599.3" y2="619.1"/>
<polygon class="k" points="599.8,618.52 598.8,618.48 597.8,602.7 602.2,602.9"/>
<text x="594.39" y="602" font-size="11" textLength="7.49" lengthAdjust="spacingAndGlyphs">O</text>
<line x1="605.2" y1="594.6" x2="611.8" y2="592.3"/>
<text x="611.95" y="592.3" font-size="11" textLength="21" lengthAdjust="spacingAndGlyphs">Pmb</text>
<line x1="599.3" y1="619.1" x2="616.6" y2="628.4"/>
<line x1="616.6" y1="628.4" x2="633.6" y2="618.7"/>
<line x1="617" y1="624.8" x2="629.6" y2="617.1"/>
<polygon class="k" points="633.37,619.14 633.83,618.26 652.41,626.12 650.59,629.68"/>
<line x1="651.5" y1="627.9" x2="662.5" y2="622.2"/>
<text x="663.39" y="621.5" font-size="11" textLength="7.49" lengthAdjust="spacingAndGlyphs">O</text>
<line x1="674.2" y1="622.2" x2="686.6" y2="627.9"/>
<line x1="686.6" y1="627.9" x2="686.6" y2="648.6"/>
<line x1="686.6" y1="648.6" x2="668.5" y2="657.7"/>
<line x1="669.3" y1="653.5" x2="682.9" y2="646"/>
<line x1="668.5" y1="657.7" x2="651.5" y2="648.6"/>
<line x1="651.5" y1="648.6" x2="651.5" y2="627.9"/>
<line x1="668.5" y1="657.7" x2="668.5" y2="672.4"/>
<text x="663.36" y="681.8" font-size="11" textLength="14.53" lengthAdjust="spacingAndGlyphs">CH</text>
<text class="s" x="678.6" y="686" font-size="7.2">3</text>
<polygon class="k" points="581.7,627.88 582.7,627.92 583.7,642.67 579.7,642.53"/>
<text x="577.09" y="652.3" font-size="11" textLength="7.49" lengthAdjust="spacingAndGlyphs">O</text>
<line x1="577" y1="651.5" x2="570.3" y2="655"/>
<text x="550.76" y="661.4" font-size="11" textLength="16.21" lengthAdjust="spacingAndGlyphs">thp</text>
<line x1="551" y1="713.3" x2="567.5" y2="723.1"/>
<line x1="568" y1="720" x2="588.1" y2="720"/>
<line x1="567.5" y1="723.1" x2="609" y2="723.1"/>
<line x1="568" y1="727" x2="588.1" y2="727"/>
<line x1="609" y1="723.1" x2="613.8" y2="713.2"/>
<line x1="606.2" y1="724.1" x2="612.8" y2="735.7"/>
<line x1="609.5" y1="722.6" x2="616.1" y2="733.5"/>
<text x="613.39" y="744.5" font-size="11" textLength="7.49" lengthAdjust="spacingAndGlyphs">O</text>
<text x="613.39" y="709.6" font-size="11" textLength="7.49" lengthAdjust="spacingAndGlyphs">O</text>
<line x1="623" y1="706.4" x2="633" y2="706.4"/>
<text x="632.91" y="709.6" font-size="11" textLength="15.66" lengthAdjust="spacingAndGlyphs">CH</text>
<text class="s" x="647.3" y="713.9" font-size="7.2">3</text>
<text x="587.94" y="771.8" font-size="11" textLength="21.32" lengthAdjust="spacingAndGlyphs">(LIII)</text>
<line x1="601.5" y1="794.8" x2="601.5" y2="850.6"/>
<polygon class="k" points="601.5,853.1 602.9,850.1 603.3,844.6 604.3,842.1 601.5,843.6 598.5,842.1 599.4,844.6 600,850.1"/>
<text x="613.02" y="827.7" font-size="11" textLength="22.1" lengthAdjust="spacingAndGlyphs">CSA</text>
<text x="465.95" y="926.7" font-size="11" textLength="22.85" lengthAdjust="spacingAndGlyphs">mom</text>
<line x1="492.2" y1="918.2" x2="498.1" y2="916"/>
<text x="497.49" y="916.7" font-size="11" textLength="7.49" lengthAdjust="spacingAndGlyphs">O</text>
<line x1="517.47" y1="919.67" x2="516.01" y2="921.98"/>
<line x1="515.28" y1="918.17" x2="513.71" y2="920.65"/>
<line x1="513.09" y1="916.67" x2="511.42" y2="919.31"/>
<line x1="510.9" y1="915.17" x2="509.13" y2="917.98"/>
<line x1="520.5" y1="923.2" x2="520.5" y2="943.4"/>
<line x1="520.5" y1="943.4" x2="506.7" y2="956.6"/>
<line x1="506.7" y1="956.6" x2="496.8" y2="949"/>
<line x1="506.2" y1="959" x2="494.4" y2="952.3"/>
<text x="473.42" y="950.9" font-size="11" textLength="7.68" lengthAdjust="spacingAndGlyphs">H</text>
<text class="s" x="480.6" y="954" font-size="7.2">2</text>
<text x="484.32" y="950.9" font-size="11" textLength="7.68" lengthAdjust="spacingAndGlyphs">C</text>
<line x1="506.7" y1="956.6" x2="506.7" y2="977.3"/>
<line x1="506.7" y1="977.3" x2="488.7" y2="987.2"/>
<polygon class="k" points="488.93,986.75 488.47,987.65 474.66,982.83 476.94,978.37"/>
<text x="455.22" y="980.6" font-size="11" textLength="7.68" lengthAdjust="spacingAndGlyphs">H</text>
<text class="s" x="463.6" y="984" font-size="7.2">3</text>
<text x="466.32" y="980.6" font-size="11" textLength="7.68" lengthAdjust="spacingAndGlyphs">C</text>
<line x1="488.6" y1="987.2" x2="488.6" y2="1006.4"/>
<polygon class="k" points="488.34,1006.83 488.86,1005.97 507.44,1015.49 505.36,1018.91"/>
<line x1="506.4" y1="1017.2" x2="516.6" y2="1011"/>
<text x="518.39" y="1010.6" font-size="11" textLength="7.49" lengthAdjust="spacingAndGlyphs">O</text>
<line x1="529.3" y1="1010.2" x2="540.4" y2="1016.7"/>
<line x1="540.4" y1="1016.7" x2="540.4" y2="1037.7"/>
<line x1="540.4" y1="1037.7" x2="523.6" y2="1047.4"/>
<line x1="523" y1="1043.6" x2="536" y2="1036.6"/>
<line x1="523.6" y1="1047.4" x2="506.4" y2="1037.7"/>
<line x1="506.4" y1="1037.7" x2="506.4" y2="1017.2"/>
<line x1="541.87" y1="1016.87" x2="541.11" y2="1015.4"/>
<line x1="543.97" y1="1015.83" x2="543.17" y2="1014.28"/>
<line x1="546.07" y1="1014.79" x2="545.23" y2="1013.16"/>
<line x1="548.17" y1="1013.75" x2="547.29" y2="1012.04"/>
<line x1="550.28" y1="1012.71" x2="549.35" y2="1010.92"/>
<line x1="552.38" y1="1011.67" x2="551.41" y2="1009.8"/>
<line x1="554.48" y1="1010.63" x2="553.47" y2="1008.67"/>
<line x1="556.58" y1="1009.59" x2="555.53" y2="1007.55"/>
<line x1="558.69" y1="1008.55" x2="557.59" y2="1006.43"/>
<line x1="520.5" y1="923.2" x2="537.4" y2="913.5"/>
<line x1="537.4" y1="913.5" x2="554.4" y2="923.2"/>
<line x1="541" y1="911.1" x2="554" y2="917.6"/>
<line x1="554.4" y1="923.2" x2="572.1" y2="913.8"/>
<line x1="572.1" y1="913.8" x2="589.2" y2="921.9"/>
<line x1="589.2" y1="921.9" x2="606.3" y2="913.1"/>
<polygon class="k" points="606.8,912.52 605.8,912.48 604.8,896.7 609.2,896.9"/>
<text x="601.39" y="896" font-size="11" textLength="7.49" lengthAdjust="spacingAndGlyphs">O</text>
<line x1="612.2" y1="888.6" x2="618.8" y2="886.3"/>
<text x="618.95" y="886.3" font-size="11" textLength="21" lengthAdjust="spacingAndGlyphs">Pmb</text>
<line x1="606.3" y1="913.1" x2="623.6" y2="922.4"/>
<line x1="623.6" y1="922.4" x2="640.6" y2="912.7"/>
<line x1="624" y1="918.8" x2="636.6" y2="911.1"/>
<polygon class="k" points="640.37,913.14 640.83,912.26 659.41,920.12 657.59,923.68"/>
<line x1="658.5" y1="921.9" x2="669.5" y2="916.2"/>
<text x="670.39" y="915.5" font-size="11" textLength="7.49" lengthAdjust="spacingAndGlyphs">O</text>
<line x1="681.2" y1="916.2" x2="693.6" y2="921.9"/>
<line x1="693.6" y1="921.9" x2="693.6" y2="942.6"/>
<line x1="693.6" y1="942.6" x2="675.5" y2="951.7"/>
<line x1="676.3" y1="947.5" x2="689.9" y2="940"/>
<line x1="675.5" y1="951.7" x2="658.5" y2="942.6"/>
<line x1="658.5" y1="942.6" x2="658.5" y2="921.9"/>
<line x1="675.5" y1="951.7" x2="675.5" y2="966.4"/>
<text x="670.36" y="975.8" font-size="11" textLength="14.53" lengthAdjust="spacingAndGlyphs">CH</text>
<text class="s" x="685.6" y="980" font-size="7.2">3</text>
<polygon class="k" points="588.7,921.9 589.7,921.9 591.3,938.2 587.1,938.2"/>
<text x="584.64" y="946" font-size="11" textLength="13.3" lengthAdjust="spacingAndGlyphs">OH</text>
<line x1="558" y1="1007.3" x2="574.5" y2="1017.1"/>
<line x1="575" y1="1014" x2="595.1" y2="1014"/>
<line x1="574.5" y1="1017.1" x2="616" y2="1017.1"/>
<line x1="575" y1="1021" x2="595.1" y2="1021"/>
<line x1="616" y1="1017.1" x2="620.8" y2="1007.2"/>
<line x1="613.2" y1="1018.1" x2="619.8" y2="1029.7"/>
<line x1="616.5" y1="1016.6" x2="623.1" y2="1027.5"/>
<text x="620.39" y="1038.5" font-size="11" textLength="7.49" lengthAdjust="spacingAndGlyphs">O</text>
<text x="620.39" y="1003.6" font-size="11" textLength="7.49" lengthAdjust="spacingAndGlyphs">O</text>
<line x1="630" y1="1000.4" x2="640" y2="1000.4"/>
<text x="639.91" y="1003.6" font-size="11" textLength="15.66" lengthAdjust="spacingAndGlyphs">CH</text>
<text class="s" x="654.3" y="1007.9" font-size="7.2">3</text>
<text x="587.94" y="1056.1" font-size="11" textLength="25.9" lengthAdjust="spacingAndGlyphs">(LIV)</text>
<line x1="430" y1="987.5" x2="335.1" y2="987.5"/>
<polygon class="k" points="332.6,987.5 335.6,988.9 341.1,989.3 343.6,990.3 342.1,987.5 343.6,984.5 341.1,985.4 335.6,986"/>
<text x="370.11" y="977.5" font-size="11" textLength="24.84" lengthAdjust="spacingAndGlyphs">LiOH</text>
<text x="61.95" y="926.7" font-size="11" textLength="22.85" lengthAdjust="spacingAndGlyphs">mom</text>
<line x1="88.2" y1="918.2" x2="94.1" y2="916"/>
<text x="93.49" y="916.7" font-size="11" textLength="7.49" lengthAdjust="spacingAndGlyphs">O</text>
<line x1="113.47" y1="919.67" x2="112.01" y2="921.98"/>
<line x1="111.28" y1="918.17" x2="109.71" y2="920.65"/>
<line x1="109.09" y1="916.67" x2="107.42" y2="919.31"/>
<line x1="106.9" y1="915.17" x2="105.13" y2="917.98"/>
<line x1="116.5" y1="923.2" x2="116.5" y2="943.4"/>
<line x1="116.5" y1="943.4" x2="102.7" y2="956.6"/>
<line x1="102.7" y1="956.6" x2="92.8" y2="949"/>
<line x1="102.2" y1="959" x2="90.4" y2="952.3"/>
<text x="69.42" y="950.9" font-size="11" textLength="7.68" lengthAdjust="spacingAndGlyphs">H</text>
<text class="s" x="76.6" y="954" font-size="7.2">2</text>
<text x="80.32" y="950.9" font-size="11" textLength="7.68" lengthAdjust="spacingAndGlyphs">C</text>
<line x1="102.7" y1="956.6" x2="102.7" y2="977.3"/>
<line x1="102.7" y1="977.3" x2="84.7" y2="987.2"/>
<polygon class="k" points="84.93,986.75 84.47,987.65 70.66,982.83 72.94,978.37"/>
<text x="51.22" y="980.6" font-size="11" textLength="7.68" lengthAdjust="spacingAndGlyphs">H</text>
<text class="s" x="59.6" y="984" font-size="7.2">3</text>
<text x="62.32" y="980.6" font-size="11" textLength="7.68" lengthAdjust="spacingAndGlyphs">C</text>
<line x1="84.6" y1="987.2" x2="84.6" y2="1006.4"/>
<polygon class="k" points="84.33,1006.82 84.87,1005.98 102.48,1015.52 100.32,1018.88"/>
<line x1="101.4" y1="1017.2" x2="112.6" y2="1011"/>
<text x="114.39" y="1010.6" font-size="11" textLength="7.49" lengthAdjust="spacingAndGlyphs">O</text>
<line x1="125.3" y1="1010.2" x2="136.4" y2="1016.7"/>
<line x1="136.4" y1="1016.7" x2="136.4" y2="1037.7"/>
<line x1="136.4" y1="1037.7" x2="119.6" y2="1047.4"/>
<line x1="119" y1="1043.6" x2="132" y2="1036.6"/>
<line x1="119.6" y1="1047.4" x2="101.4" y2="1037.7"/>
<line x1="101.4" y1="1037.7" x2="101.4" y2="1017.2"/>
<line x1="137.87" y1="1016.87" x2="137.11" y2="1015.4"/>
<line x1="139.97" y1="1015.83" x2="139.17" y2="1014.28"/>
<line x1="142.07" y1="1014.79" x2="141.23" y2="1013.16"/>
<line x1="144.17" y1="1013.75" x2="143.29" y2="1012.04"/>
<line x1="146.28" y1="1012.71" x2="145.35" y2="1010.92"/>
<line x1="148.38" y1="1011.67" x2="147.41" y2="1009.8"/>
<line x1="150.48" y1="1010.63" x2="149.47" y2="1008.67"/>
<line x1="152.58" y1="1009.59" x2="151.53" y2="1007.55"/>
<line x1="154.69" y1="1008.55" x2="153.59" y2="1006.43"/>
<line x1="116.5" y1="923.2" x2="133.4" y2="913.5"/>
<line x1="133.4" y1="913.5" x2="150.4" y2="923.2"/>
<line x1="137" y1="911.1" x2="150" y2="917.6"/>
<line x1="150.4" y1="923.2" x2="168.1" y2="913.8"/>
<line x1="168.1" y1="913.8" x2="185.2" y2="921.9"/>
<line x1="184.2" y1="921.9" x2="201.3" y2="913.1"/>
<polygon class="k" points="201.8,912.52 200.8,912.48 199.8,896.7 204.2,896.9"/>
<text x="196.39" y="896" font-size="11" textLength="7.49" lengthAdjust="spacingAndGlyphs">O</text>
<line x1="207.2" y1="888.6" x2="213.8" y2="886.3"/>
<text x="213.95" y="886.3" font-size="11" textLength="21" lengthAdjust="spacingAndGlyphs">Pmb</text>
<line x1="201.3" y1="913.1" x2="218.6" y2="922.4"/>
<line x1="218.6" y1="922.4" x2="235.6" y2="912.7"/>
<line x1="219" y1="918.8" x2="231.6" y2="911.1"/>
<polygon class="k" points="235.37,913.14 235.83,912.26 254.41,920.12 252.59,923.68"/>
<line x1="253.5" y1="921.9" x2="264.5" y2="916.2"/>
<text x="265.39" y="915.5" font-size="11" textLength="7.49" lengthAdjust="spacingAndGlyphs">O</text>
<line x1="276.2" y1="916.2" x2="288.6" y2="921.9"/>
<line x1="288.6" y1="921.9" x2="288.6" y2="942.6"/>
<line x1="288.6" y1="942.6" x2="270.5" y2="951.7"/>
<line x1="271.3" y1="947.5" x2="284.9" y2="940"/>
<line x1="270.5" y1="951.7" x2="253.5" y2="942.6"/>
<line x1="253.5" y1="942.6" x2="253.5" y2="921.9"/>
<line x1="270.5" y1="951.7" x2="270.5" y2="966.4"/>
<text x="265.36" y="975.8" font-size="11" textLength="14.53" lengthAdjust="spacingAndGlyphs">CH</text>
<text class="s" x="280.6" y="980" font-size="7.2">3</text>
<polygon class="k" points="183.7,921.9 184.7,921.9 186.3,938.2 182.1,938.2"/>
<text x="179.64" y="946" font-size="11" textLength="13.3" lengthAdjust="spacingAndGlyphs">OH</text>
<line x1="154" y1="1007.3" x2="170.5" y2="1017.1"/>
<line x1="171" y1="1014" x2="191.1" y2="1014"/>
<line x1="170.5" y1="1017.1" x2="212" y2="1017.1"/>
<line x1="171" y1="1021" x2="191.1" y2="1021"/>
<line x1="212" y1="1017.1" x2="216.8" y2="1007.2"/>
<line x1="209.2" y1="1018.1" x2="215.8" y2="1029.7"/>
<line x1="212.5" y1="1016.6" x2="219.1" y2="1027.5"/>
<text x="216.39" y="1038.5" font-size="11" textLength="7.49" lengthAdjust="spacingAndGlyphs">O</text>
<text x="215.08" y="1003.8" font-size="11" textLength="14.54" lengthAdjust="spacingAndGlyphs">OH</text>
<text x="163.86" y="1056.1" font-size="11" textLength="24.07" lengthAdjust="spacingAndGlyphs">(LV)</text>
</svg></body></html>
